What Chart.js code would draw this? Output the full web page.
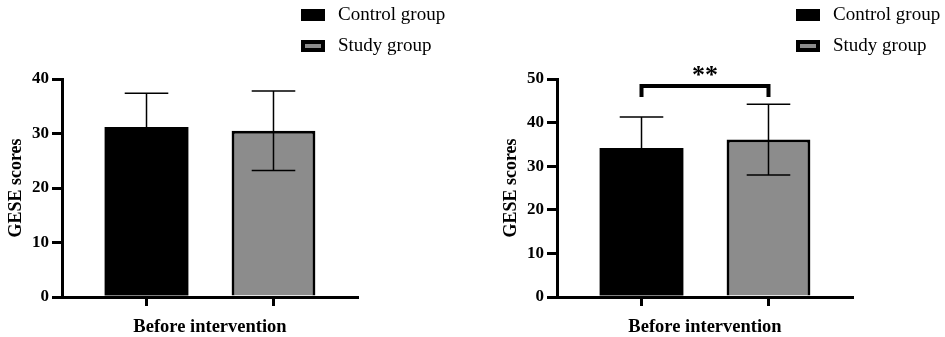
<!DOCTYPE html>
<html>
<head>
<meta charset="utf-8">
<script src="https://cdn.jsdelivr.net/npm/chart.js@4"></script>
<style>
  body { margin: 0; background: #fff; }
  #wrap { position: relative; width: 945px; height: 337px; }
  canvas { position: absolute; top: 0; }
</style>
</head>
<body>
<div id="wrap">
  <canvas id="left" width="472" height="337" style="left:0"></canvas>
  <canvas id="right" width="473" height="337" style="left:472px"></canvas>
</div>
<script>
// values
const categories = ['Before intervention']
const groupNames = ['Control group', 'Study group']
const groupColors = ['#000000', '#8c8c8c']
const groupBorders = [0, 3]
const leftMeans = [31.2, 30.5]
const leftSD = [6.2, 7.3]
const rightMeans = [34.2, 36.1]
const rightSD = [7.1, 8.1]
const leftMax = 40
const rightMax = 50
const sigText = '**'
const sigLevel = 48.4

const serif = "'Liberation Serif', 'Times New Roman', serif"

// error bars, x ticks under each bar, legend, significance bracket
const extras = {
  id: 'extras',
  afterDatasetsDraw(chart, args, opts) {
    const ctx = chart.ctx
    const y = chart.scales.y
    const area = chart.chartArea
    ctx.save()
    chart.data.datasets.forEach((ds, i) => {
      const meta = chart.getDatasetMeta(i)
      meta.data.forEach((bar, j) => {
        const m = ds.data[j], s = ds.sd[j]
        const yt = y.getPixelForValue(m + s)
        const yb = y.getPixelForValue(m - s)
        const hw = bar.width * 0.26
        ctx.strokeStyle = '#000'
        ctx.lineWidth = 1.5
        ctx.beginPath()
        ctx.moveTo(bar.x, yt); ctx.lineTo(bar.x, yb)
        ctx.moveTo(bar.x - hw, yt); ctx.lineTo(bar.x + hw, yt)
        ctx.moveTo(bar.x - hw, yb); ctx.lineTo(bar.x + hw, yb)
        ctx.stroke()
        // tick mark under the bar
        ctx.lineWidth = 3
        ctx.beginPath()
        ctx.moveTo(bar.x, area.bottom); ctx.lineTo(bar.x, area.bottom + 9)
        ctx.stroke()
      })
    })

    // legend
    const lx = area.right - 57
    chart.data.datasets.forEach((ds, i) => {
      const cy = 15 + i * 31
      ctx.fillStyle = '#000'
      ctx.fillRect(lx, cy - 6, 24, 12)
      if (ds.backgroundColor !== '#000000') {
        ctx.fillStyle = ds.backgroundColor
        ctx.fillRect(lx + 4, cy - 2, 16, 4)
      }
      ctx.fillStyle = '#000'
      ctx.font = '19px ' + serif
      ctx.textBaseline = 'middle'
      ctx.textAlign = 'left'
      ctx.fillText(ds.label, lx + 37, cy)
    })

    // significance bracket
    if (opts.sig) {
      const x1 = chart.getDatasetMeta(0).data[0].x
      const x2 = chart.getDatasetMeta(1).data[0].x
      const yb = y.getPixelForValue(opts.level)
      const yk = y.getPixelForValue(opts.level - 2.5)
      ctx.strokeStyle = '#000'
      ctx.lineWidth = 4
      ctx.beginPath()
      ctx.moveTo(x1, yk); ctx.lineTo(x1, yb); ctx.lineTo(x2, yb); ctx.lineTo(x2, yk)
      ctx.stroke()
      ctx.fillStyle = '#000'
      ctx.font = 'bold 26px ' + serif
      ctx.textAlign = 'center'
      ctx.textBaseline = 'alphabetic'
      ctx.fillText(opts.sig, (x1 + x2) / 2, yb - 3)
    }
    ctx.restore()
  }
}

function makeChart(id, means, sds, yMax, padLeft, padRight, sig) {
  return new Chart(document.getElementById(id), {
    type: 'bar',
    data: {
      labels: categories,
      datasets: groupNames.map((name, i) => ({
        label: name,
        data: [means[i]],
        sd: [sds[i]],
        backgroundColor: groupColors[i],
        borderColor: '#000',
        borderWidth: groupBorders[i],
        barPercentage: 0.66,
        categoryPercentage: 0.858
      }))
    },
    options: {
      responsive: false,
      animation: false,
      layout: { padding: { left: padLeft, right: padRight, top: 79, bottom: 0 } },
      plugins: {
        legend: { display: false },
        tooltip: { enabled: false },
        extras: { sig: sig, level: sigLevel }
      },
      scales: {
        x: {
          grid: { display: false },
          border: { color: '#000', width: 3 },
          ticks: { color: '#000', padding: 11, font: { family: serif, size: 18.5, weight: 'bold' } },
          afterFit: (s) => { s.height = 40 }
        },
        y: {
          min: 0,
          max: yMax,
          ticks: { stepSize: 10, color: '#000', padding: 3, font: { family: serif, size: 17, weight: 'bold' } },
          grid: { drawOnChartArea: false, drawTicks: true, tickLength: 10, lineWidth: 3, color: '#000' },
          border: { color: '#000', width: 3 },
          title: { display: true, text: 'GESE scores', color: '#000', padding: { top: 6, bottom: 0 }, font: { family: serif, size: 18, weight: 'bold' } },
          afterFit: (s) => { s.width = 62 }
        }
      }
    },
    plugins: [extras]
  })
}

makeChart('left', leftMeans, leftSD, leftMax, 0, 114, null)
makeChart('right', rightMeans, rightSD, rightMax, 23, 92, sigText)
</script>
</body>
</html>
